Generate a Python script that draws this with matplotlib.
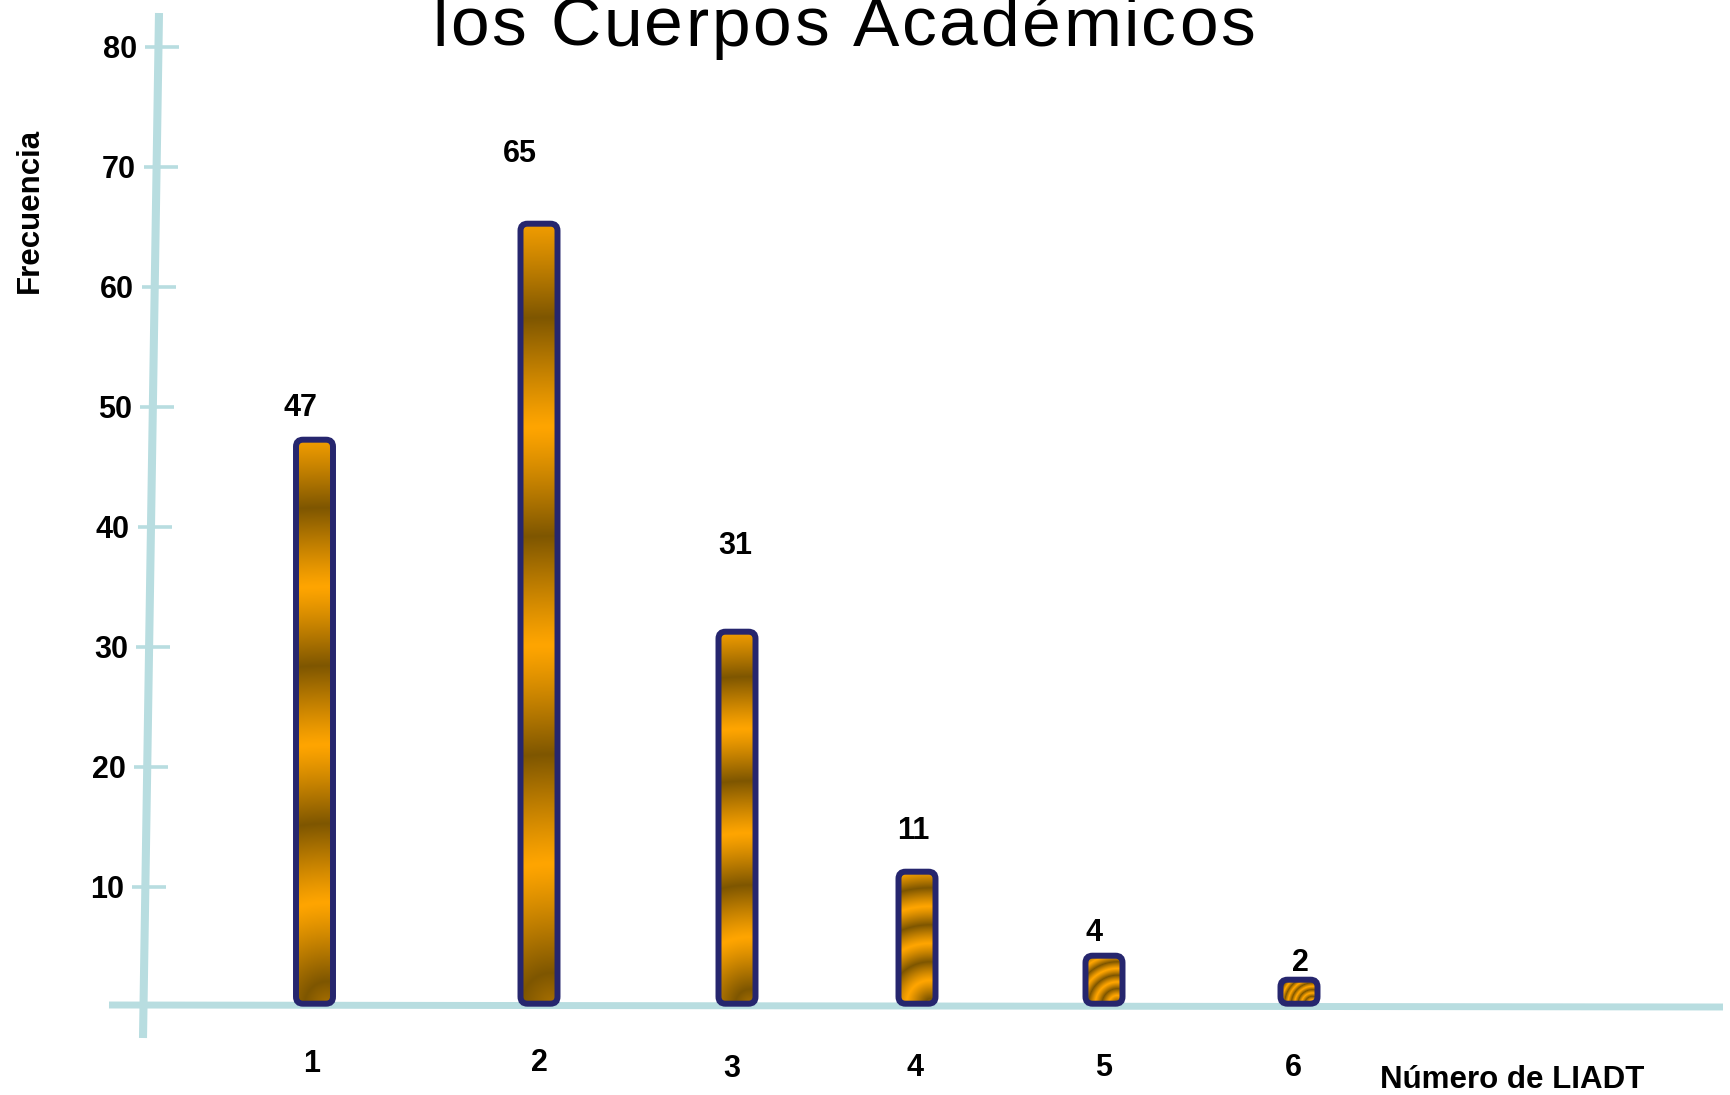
import numpy as np
import matplotlib
matplotlib.use("Agg")
import matplotlib.pyplot as plt
from matplotlib.patches import FancyBboxPatch
from matplotlib.colors import to_rgb
from matplotlib.font_manager import FontProperties, findfont, get_font

# ---- data ----
categories = ["1", "2", "3", "4", "5", "6"]
frecuencias = [47, 65, 31, 11, 4, 2]
y_ticks = [10, 20, 30, 40, 50, 60, 70, 80]
title_text = "los Cuerpos Académicos"
x_label = "Número de LIADT"
y_label = "Frecuencia"

# ---- layout (horizontal positions are in figure pixels) ----
bar_x = [314.5, 539, 737, 917, 1104, 1299]
cat_label_x = [312, 539.5, 731.5, 914.7, 1104, 1293]
cat_label_row = [1061, 1060, 1066, 1065, 1065, 1065]
value_dx = [-14.5, -19, -2, -3.5, -9.5, 1]
value_dy = [3.1, 6.3, 7.6, 3.9, 2.4, 1.9]

W_PX, H_PX = 1730, 1095
PX = 12.0          # pixels per frequency unit
ZERO_ROW = 1006.7  # pixel row (from top) of frequency 0

AXIS_C = "#B8DDE0"
EDGE_C = "#26266E"
ORANGE = np.array(to_rgb("#FFA500"))
BROWN = np.array(to_rgb("#7E5600"))
FONT = "Liberation Sans"


def row_to_v(row):
    return (ZERO_ROW - row) / PX


def axis_x(row):
    # the vertical axis leans slightly to the left going down
    return 159 - 16 * (row - 13) / 1025


fig = plt.figure(figsize=(W_PX / 100, H_PX / 100), dpi=100)
ax = fig.add_axes([0, 0, 1, 1])
ax.set_xlim(0, W_PX)
ax.set_ylim(row_to_v(H_PX), row_to_v(0))
ax.axis("off")

# axes lines
ax.plot([159, 143], [row_to_v(13), row_to_v(1038)], color=AXIS_C, lw=5.8,
        solid_capstyle="butt", zorder=2)
ax.plot([109, 1723], [row_to_v(1005), row_to_v(1007)], color=AXIS_C, lw=5.0,
        solid_capstyle="butt", zorder=2)

# y ticks and labels
for v in y_ticks:
    r = ZERO_ROW - v * PX
    xa = axis_x(r)
    ax.plot([xa - 13, xa + 21], [v, v], color=AXIS_C, lw=2.6,
            solid_capstyle="butt", zorder=2)
    ax.text(xa - 21, v - 11 / PX, str(v), ha="right", va="baseline",
            fontsize=22, fontweight="bold", family=FONT, zorder=5)

# bars with a ringed radial fill
BAR_W = 37
for i, val in enumerate(frecuencias):
    x0 = bar_x[i] - BAR_W / 2
    patch = FancyBboxPatch((x0, 0.25), BAR_W, val,
                           boxstyle="round,pad=0,rounding_size=7",
                           mutation_aspect=1 / PX, fc="none", ec=EDGE_C,
                           lw=4.3, zorder=4)
    ax.add_patch(patch)
    h_px = val * PX
    ny = max(int(round(h_px)), 2)
    nx = BAR_W
    xs = np.arange(nx) + 0.5
    ys = (np.arange(ny) + 0.5) * h_px / ny
    XX, YY = np.meshgrid(xs, ys)
    d = np.sqrt((XX - 0.85 * BAR_W) ** 2 + YY ** 2) / h_px
    phase = np.mod((d - 0.18) / 0.28, 1.0)
    w = 1.0 - np.abs(2 * phase - 1.0)          # triangle wave: 0 orange, 1 brown
    w = w ** 1.15
    img = ORANGE[None, None, :] * (1 - w[..., None]) + BROWN[None, None, :] * w[..., None]
    im = ax.imshow(img, extent=[x0, x0 + BAR_W, 0.25, 0.25 + val], origin="lower",
                   aspect="auto", interpolation="bilinear", zorder=3)
    im.set_clip_path(patch)

    # value label
    ax.text(bar_x[i] + value_dx[i], val + value_dy[i] - 11 / PX, str(val),
            ha="center", va="baseline", fontsize=22, fontweight="bold",
            family=FONT, zorder=5)

# category labels
for i, c in enumerate(categories):
    ax.text(cat_label_x[i], row_to_v(cat_label_row[i] + 11), c, ha="center",
            va="baseline", fontsize=22, fontweight="bold", family=FONT, zorder=5)

# axis titles
ax.text(1512, row_to_v(1088), x_label, ha="center", va="baseline",
        fontsize=22.5, fontweight="bold", family=FONT, zorder=5)
ax.text(30, row_to_v(210), y_label, ha="center", va="center", rotation=90,
        fontsize=22.5, fontweight="bold", family=FONT, zorder=5)

# title, set with a little extra letter spacing
TITLE_PT = 50
ft = get_font(findfont(FontProperties(family=FONT)))
ft.set_size(TITLE_PT, 100)
adv = []
for ch in title_text:
    g = ft.load_char(ord(ch))
    adv.append(g.linearHoriAdvance / 65536.0)
start, end = 432.0, 1220.0
track = (end - start - sum(adv[:-1])) / (len(title_text) - 1)
xpos = start
base_v = row_to_v(46)
for ch, a in zip(title_text, adv):
    if ch != " ":
        ax.text(xpos + a / 2, base_v, ch, ha="center", va="baseline",
                fontsize=TITLE_PT, family=FONT, zorder=5)
    xpos += a + track

fig.savefig("out.png", dpi=100)
